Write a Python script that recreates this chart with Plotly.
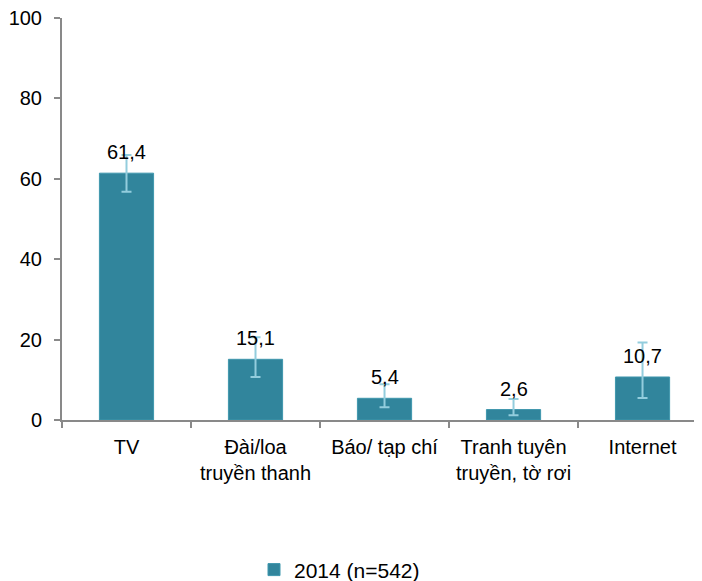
import plotly.graph_objects as go

categories = ["TV", "Đài/loa<br>truyền thanh", "Báo/ tạp chí", "Tranh tuyên<br>truyền, tờ rơi", "Internet"]
values = [61.4, 15.1, 5.4, 2.6, 10.7]
err_plus = [4.5, 5.5, 3.5, 2.6, 8.6]
err_minus = [4.6, 4.4, 2.2, 1.4, 5.2]
series_name = "2014 (n=542)"

BAR = "#31859c"
ERR = "#93cddd"
AXIS = "#898989"
FONT = "Liberation Sans, Arial, sans-serif"

fig = go.Figure(go.Bar(
    x=categories,
    y=values,
    name=series_name,
    width=0.42,
    marker=dict(color=BAR, line=dict(color="#3f97ad", width=1)),
    error_y=dict(
        type="data",
        symmetric=False,
        array=err_plus,
        arrayminus=err_minus,
        color=ERR,
        thickness=2,
        width=5,
    ),
))

# data labels above bars
for cat, val in zip(categories, values):
    fig.add_annotation(
        x=cat, y=val,
        text=f"{val:.1f}".replace(".", ","),
        showarrow=False,
        yanchor="bottom",
        yshift=8,
        font=dict(size=20, color="#000000", family=FONT),
    )

# page body has an 8px margin, so the figure is offset by 8px
fig.update_layout(
    width=694,
    height=573,
    margin=dict(l=54, r=0, t=10, b=161, autoexpand=False),
    plot_bgcolor="white",
    paper_bgcolor="white",
    font=dict(family=FONT, size=20, color="#000000"),
    showlegend=True,
    legend=dict(
        orientation="h",
        x=0.300, xanchor="left",
        y=-0.373, yanchor="middle",
        font=dict(size=21),
    ),
    xaxis=dict(
        range=[-0.5, 4.461],
        showline=True,
        linecolor=AXIS,
        linewidth=2,
        ticks="outside",
        tickson="boundaries",
        ticklen=6,
        tickcolor=AXIS,
        tickwidth=2,
        showgrid=False,
        automargin=False,
        ticklabelstandoff=8,
    ),
    yaxis=dict(
        range=[0, 100],
        dtick=20,
        showline=True,
        linecolor=AXIS,
        linewidth=2,
        ticks="outside",
        ticklen=6,
        tickcolor=AXIS,
        tickwidth=2,
        showgrid=False,
        zeroline=False,
        automargin=False,
        ticklabelstandoff=8,
        ticklabeloverflow="allow",
    ),
)

fig.write_html("out.html")
